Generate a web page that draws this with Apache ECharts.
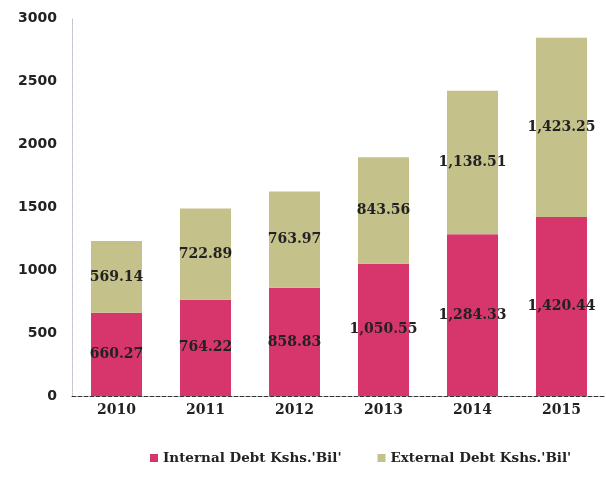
<!DOCTYPE html>
<html>
<head>
<meta charset="utf-8">
<script src="https://cdn.jsdelivr.net/npm/echarts@6/dist/echarts.min.js"></script>
<style>html,body{margin:0;padding:0;background:#fff}#c{width:606px;height:479px}</style>
</head>
<body>
<div id="c"></div>
<script>
const categories = ['2010','2011','2012','2013','2014','2015'];
const internalDebt = [660.27, 764.22, 858.83, 1050.55, 1284.33, 1420.44];
const externalDebt = [569.14, 722.89, 763.97, 843.56, 1138.51, 1423.25];
const yTicks = [0, 500, 1000, 1500, 2000, 2500, 3000];
const seriesNames = ["Internal Debt Kshs.'Bil'", "External Debt Kshs.'Bil'"];

function fmt(v){
  const parts = v.toFixed(2).split('.');
  parts[0] = parts[0].replace(/\B(?=(\d{3})+(?!\d))/g, ',');
  return parts.join('.');
}
const serif = '"DejaVu Serif", serif';
const chart = echarts.init(document.getElementById('c'));
const labelStyle = {
  show: true, position: 'inside', color: '#222', fontFamily: serif,
  fontWeight: 'bold', fontSize: 14, formatter: p => fmt(p.value)
};
chart.setOption({
  animation: false,
  grid: {left: 72, right: -8, top: 18, bottom: 83, containLabel: false},
  legend: {
    bottom: 9, left: 145, itemWidth: 8, itemHeight: 8, itemGap: 36,
    icon: 'rect',
    textStyle: {fontFamily: serif, fontWeight: 'bold', fontSize: 13.5, color: '#222'},
    data: seriesNames
  },
  xAxis: {
    type: 'category', data: categories,
    axisLine: {lineStyle: {color: '#333', type: 'dashed', width: 1}},
    axisTick: {show: false},
    axisLabel: {fontFamily: serif, fontWeight: 'bold', fontSize: 14, color: '#222', margin: 7}
  },
  yAxis: {
    type: 'value', min: yTicks[0], max: yTicks[yTicks.length-1], interval: 500,
    axisLine: {show: true, lineStyle: {color: '#b8bcc8', type: 'dotted'}},
    axisTick: {show: false},
    splitLine: {show: false},
    axisLabel: {fontFamily: '"DejaVu Sans", sans-serif', fontWeight: 'bold', fontSize: 14, color: '#222', margin: 15,
      formatter: v => String(v)}
  },
  series: [
    {name: seriesNames[0], type: 'bar', stack: 'd', data: internalDebt, barWidth: 51,
     itemStyle: {color: '#d6366c'}, label: labelStyle},
    {name: seriesNames[1], type: 'bar', stack: 'd', data: externalDebt, barWidth: 51,
     itemStyle: {color: '#c4c18a'}, label: labelStyle}
  ]
});
</script>
</body>
</html>
